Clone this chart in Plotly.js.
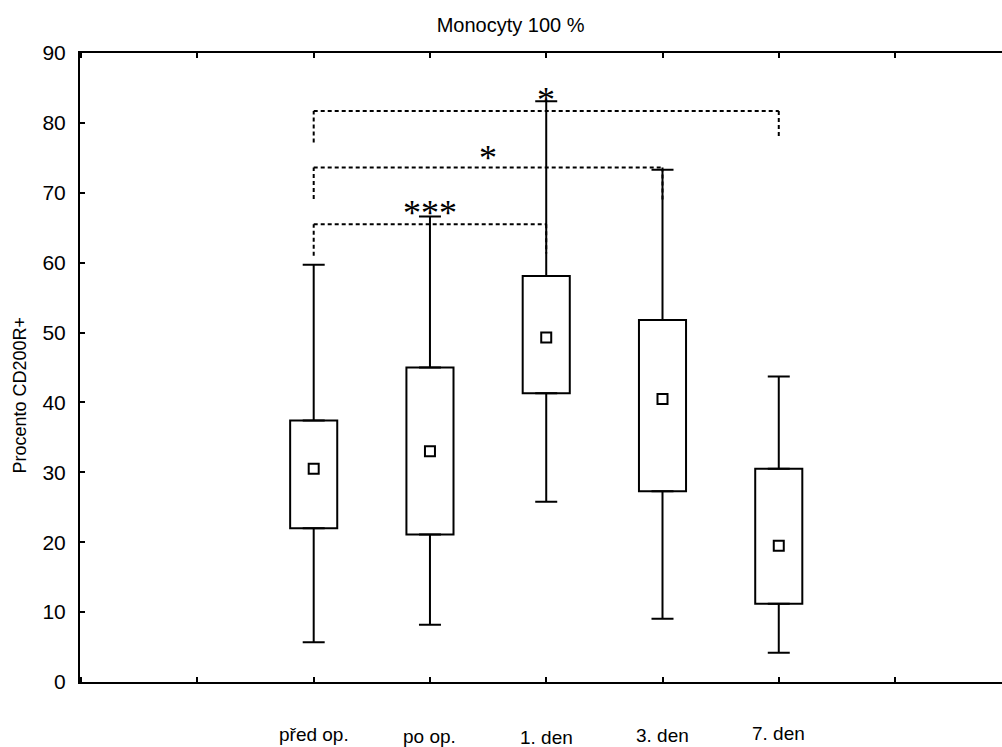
<!DOCTYPE html>
<html>
<head>
<meta charset="utf-8">
<script src="https://cdn.plot.ly/plotly-3.0.1.min.js"></script>
<style>html,body{margin:0;padding:0;background:#fff;overflow:hidden}#chart{width:1002px;height:747px}</style>
</head>
<body>
<div id="chart"></div>
<script>
// ---- data ----
var categories = ["před op.", "po op.", "1. den", "3. den", "7. den"];
var medians = [30.5, 33.0, 49.3, 40.5, 19.5];
var q1 = [22.0, 21.1, 41.3, 27.3, 11.2];
var q3 = [37.4, 45.0, 58.1, 51.8, 30.5];
var minimums = [5.7, 8.2, 25.8, 9.05, 4.2];
var maximums = [59.7, 66.6, 83.1, 73.3, 43.7];
var yTicks = [0, 10, 20, 30, 40, 50, 60, 70, 80, 90];
// significance brackets: from index, to index, bar level, left drop end, right drop end
var bracketFrom = [0, 0, 0];
var bracketTo = [2, 3, 4];
var bracketLevel = [65.5, 73.6, 81.7];
var bracketLeftEnd = [61.0, 69.1, 77.2];
var bracketRightEnd = [61.3, 69.0, 77.9];
var starText = ["***", "*", "*"];
var starX = [1, 1.5, 2];
var starY = [67.1, 75.0, 83.3];

var idx = categories.map(function (_, i) { return i; });

var boxTrace = {
  type: 'bar', x: idx, base: q1,
  y: q3.map(function (v, i) { return v - q1[i]; }),
  width: 0.405,
  marker: {color: '#ffffff', line: {color: '#000', width: 2}},
  hoverinfo: 'skip', showlegend: false
};
var upperWhisker = {
  type: 'scatter', mode: 'markers', x: idx, y: q3,
  marker: {size: 0.1, opacity: 0},
  error_y: {type: 'data', symmetric: false,
    array: maximums.map(function (v, i) { return v - q3[i]; }),
    arrayminus: q3.map(function () { return 0; }),
    color: '#000', thickness: 2, width: 11},
  showlegend: false, hoverinfo: 'skip'
};
var lowerWhisker = {
  type: 'scatter', mode: 'markers', x: idx, y: q1,
  marker: {size: 0.1, opacity: 0},
  error_y: {type: 'data', symmetric: false,
    array: q1.map(function () { return 0; }),
    arrayminus: minimums.map(function (v, i) { return q1[i] - v; }),
    color: '#000', thickness: 2, width: 11},
  showlegend: false, hoverinfo: 'skip'
};
var medianTrace = {
  type: 'scatter', mode: 'markers', x: idx, y: medians,
  marker: {symbol: 'square', size: 10, color: '#fff', line: {color: '#000', width: 2}},
  showlegend: false
};

var shapes = [];
var dash = {color: '#000', width: 2, dash: '4px,3px'};
for (var b = 0; b < bracketFrom.length; b++) {
  shapes.push({type: 'line', xref: 'x', yref: 'y', x0: bracketFrom[b], x1: bracketFrom[b], y0: bracketLeftEnd[b], y1: bracketLevel[b], line: dash});
  shapes.push({type: 'line', xref: 'x', yref: 'y', x0: bracketFrom[b], x1: bracketTo[b], y0: bracketLevel[b], y1: bracketLevel[b], line: dash});
  shapes.push({type: 'line', xref: 'x', yref: 'y', x0: bracketTo[b], x1: bracketTo[b], y0: bracketLevel[b], y1: bracketRightEnd[b], line: dash});
}

var labelShift = [-52, -54, -55, -53, -51];
var annotations = categories.map(function (c, i) {
  return {x: i, xref: 'x', y: 0, yref: 'paper', yshift: labelShift[i], text: c, showarrow: false,
    font: {family: 'Liberation Sans, Arial, sans-serif', size: 19, color: '#000'}, yanchor: 'middle'};
});
for (var s = 0; s < starText.length; s++) {
  annotations.push({x: starX[s], y: starY[s], xref: 'x', yref: 'y', text: starText[s], showarrow: false,
    font: {family: 'Liberation Serif, Times New Roman, serif', size: 36, color: '#000'}, yanchor: 'middle'});
}
// y axis title
annotations.push({x: 0, xref: 'paper', xshift: -60, xanchor: 'center', y: 41, yref: 'y', yanchor: 'middle',
  text: 'Procento CD200R+', textangle: -90, showarrow: false,
  font: {family: 'Liberation Sans, Arial, sans-serif', size: 18, color: '#000'}});

var layout = {
  width: 1002, height: 747,
  margin: {l: 80, r: 0, t: 53, b: 65},
  paper_bgcolor: '#fff', plot_bgcolor: '#fff',
  font: {family: 'Liberation Sans, Arial, sans-serif', color: '#000'},
  title: {text: 'Monocyty 100 %', x: 0.467, xref: 'paper', xanchor: 'center', y: 1 - 25 / 747, yref: 'container', yanchor: 'middle',
    font: {size: 20, color: '#000'}},
  xaxis: {range: [-2.01, 5.92], tickvals: [-2, -1, 0, 1, 2, 3, 4, 5], showticklabels: false,
    ticks: 'inside', ticklen: 5, tickwidth: 2, tickcolor: '#000',
    showline: true, linecolor: '#000', linewidth: 2, mirror: 'ticks', showgrid: false, zeroline: false, fixedrange: true},
  yaxis: {range: [0, 90], tickvals: yTicks, ticks: 'inside', ticklen: 5, tickwidth: 2, tickcolor: '#000',
    showline: true, linecolor: '#000', linewidth: 2, showgrid: false, zeroline: false,
    tickfont: {size: 21, color: '#000'}, ticklabelstandoff: 8},
  shapes: shapes,
  annotations: annotations,
  bargap: 0,
  showlegend: false
};

Plotly.newPlot('chart', [boxTrace, upperWhisker, lowerWhisker, medianTrace], layout, {displayModeBar: false, staticPlot: true});
</script>
</body>
</html>
